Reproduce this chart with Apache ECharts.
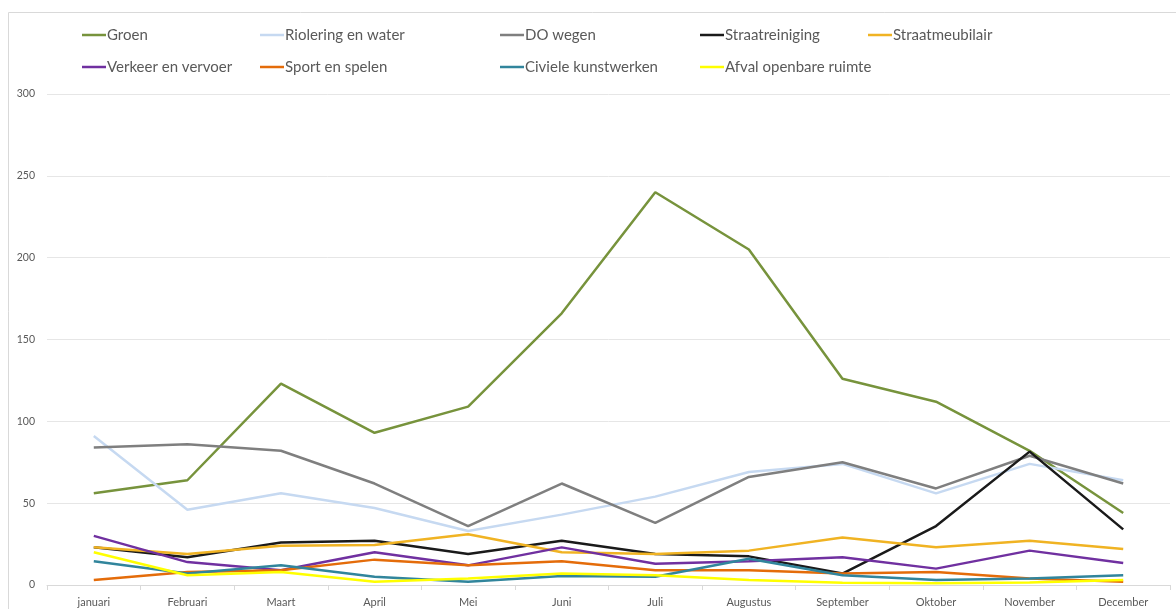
<!DOCTYPE html>
<html>
<head>
<meta charset="utf-8">
<script src="https://cdn.jsdelivr.net/npm/echarts@6/dist/echarts.min.js"></script>
<style>
  html, body { margin: 0; padding: 0; background: #fff; }
  #main { width: 1176px; height: 609px; }
</style>
</head>
<body>
<div id="main"></div>
<script>
// maanden en meldingen per categorie
const maanden = ['januari', 'Februari', 'Maart', 'April', 'Mei', 'Juni', 'Juli', 'Augustus', 'September', 'Oktober', 'November', 'December']
const yTicks = [0, 50, 100, 150, 200, 250, 300]

const groen = [56, 64, 123, 93, 109, 166, 240, 205, 126, 112, 82, 44]
const riolering = [91, 46, 56, 47, 33, 43, 54, 69, 74, 56, 74, 64]
const doWegen = [84, 86, 82, 62, 36, 62, 38, 66, 75, 59, 79, 62]
const straatreiniging = [23, 17, 26, 27, 19, 27, 19, 17.5, 7, 36, 81.5, 34]
const straatmeubilair = [23, 19, 24, 24.5, 31, 20, 19, 21, 29, 23, 27, 22]
const verkeer = [30, 14, 9, 20, 12, 23, 13, 14.5, 17, 10, 21, 13.5]
const sport = [3, 8, 9, 15.5, 12, 14.5, 9, 9, 7, 8, 4, 2]
const civiele = [14.5, 7, 12, 5, 2, 5.5, 5, 16, 6, 3, 4, 6]
const afval = [20, 6, 8, 2, 4, 7, 6, 3, 1.4, 1, 1.5, 3]

const reeksen = [
  { name: 'Groen', data: groen, color: '#77933C' },
  { name: 'Riolering en water', data: riolering, color: '#C6D9F1' },
  { name: 'DO wegen', data: doWegen, color: '#7F7F7F' },
  { name: 'Straatreiniging', data: straatreiniging, color: '#1A1A1A' },
  { name: 'Straatmeubilair', data: straatmeubilair, color: '#F0B323' },
  { name: 'Verkeer en vervoer', data: verkeer, color: '#7030A0' },
  { name: 'Sport en spelen', data: sport, color: '#E46C0A' },
  { name: 'Civiele kunstwerken', data: civiele, color: '#31859C' },
  { name: 'Afval openbare ruimte', data: afval, color: '#FFFF00' }
]

// legenda kolommen zoals in Excel
const kolommen = [
  { left: 82, items: ['Groen', 'Verkeer en vervoer'] },
  { left: 260, items: ['Riolering en water', 'Sport en spelen'] },
  { left: 500, items: ['DO wegen', 'Civiele kunstwerken'] },
  { left: 700, items: ['Straatreiniging', 'Afval openbare ruimte'] },
  { left: 868, items: ['Straatmeubilair'] }
]

const font = 'Lato, "Open Sans", sans-serif'

const chart = echarts.init(document.getElementById('main'))
chart.setOption({
  animation: false,
  color: reeksen.map(r => r.color),
  graphic: [{
    type: 'rect',
    silent: true,
    shape: { x: 8.5, y: 12.5, width: 1200, height: 700 },
    style: { fill: 'none', stroke: '#D9D9D9', lineWidth: 1 }
  }],
  legend: kolommen.map(k => ({
    data: k.items,
    orient: 'vertical',
    left: k.left,
    top: 27,
    padding: 0,
    icon: 'rect',
    itemWidth: 24,
    itemHeight: 2.5,
    itemGap: 16,
    selectedMode: false,
    textStyle: { color: '#595959', fontSize: 15, lineHeight: 16, fontFamily: font, padding: [0, 0, 0, -4] }
  })),
  grid: { left: 47, right: 6, top: 94, bottom: 24 },
  xAxis: {
    type: 'category',
    data: maanden,
    boundaryGap: true,
    axisLine: { lineStyle: { color: '#D9D9D9' } },
    axisTick: { show: true, length: 5, lineStyle: { color: '#D9D9D9' } },
    axisLabel: { color: '#595959', fontSize: 11, margin: 12, fontFamily: font }
  },
  yAxis: {
    type: 'value',
    min: yTicks[0],
    max: yTicks[yTicks.length - 1],
    interval: 50,
    axisLine: { show: false },
    axisTick: { show: false },
    splitLine: { lineStyle: { color: '#E6E6E6' } },
    axisLabel: { color: '#595959', fontSize: 10.5, margin: 12, fontFamily: font }
  },
  series: reeksen.map(r => ({
    name: r.name,
    type: 'line',
    data: r.data,
    symbol: 'none',
    lineStyle: { width: 2.5, color: r.color },
    itemStyle: { color: r.color }
  }))
})
</script>
</body>
</html>
